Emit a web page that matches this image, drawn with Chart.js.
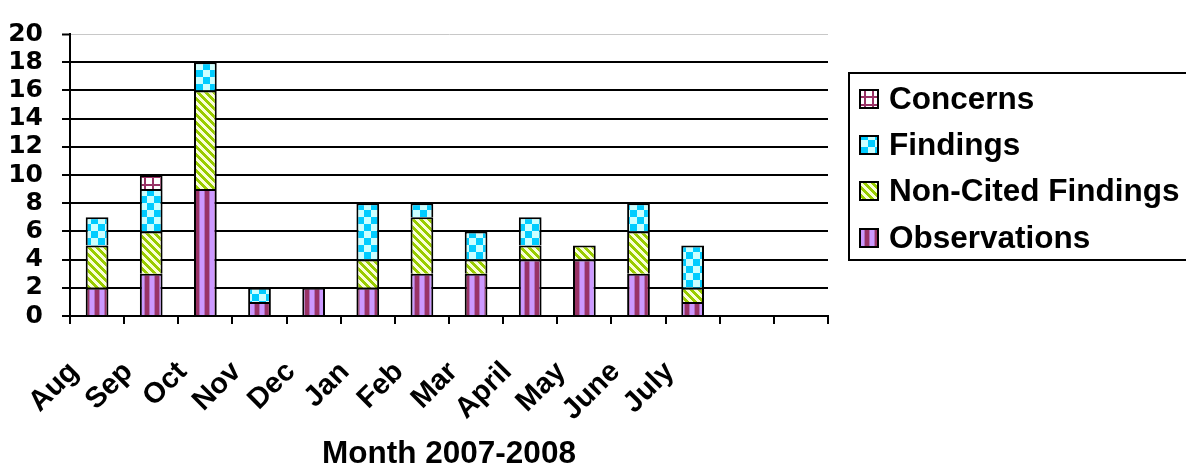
<!DOCTYPE html>
<html>
<head>
<meta charset="utf-8">
<script src="https://cdn.jsdelivr.net/npm/chart.js@4/dist/chart.umd.min.js"></script>
<style>
  html, body { margin: 0; padding: 0; background: #fff; }
  canvas { display: block; }
</style>
</head>
<body>
<canvas id="c" width="1186" height="473"></canvas>
<script>
// Monthly counts, Aug 2007 – July 2008 (two trailing empty slots)
const months = ['Aug', 'Sep', 'Oct', 'Nov', 'Dec', 'Jan', 'Feb', 'Mar', 'April', 'May', 'June', 'July', '', ''];
const observations = [2, 3, 9, 1, 2, 2, 3, 3, 4, 4, 3, 1, 0, 0];
const nonCitedFindings = [3, 3, 7, 0, 0, 2, 4, 1, 1, 1, 3, 1, 0, 0];
const findings = [2, 3, 2, 1, 0, 4, 1, 2, 2, 0, 2, 3, 0, 0];
const concerns = [0, 1, 0, 0, 0, 0, 0, 0, 0, 0, 0, 0, 0, 0];
const yTicks = [0, 2, 4, 6, 8, 10, 12, 14, 16, 18, 20];

const ARIAL = '"Liberation Sans", Arial, sans-serif';

// --- fill patterns -------------------------------------------------------
function tile(w, h, paint) {
  const c = document.createElement('canvas');
  c.width = w; c.height = h;
  const g = c.getContext('2d');
  paint(g, w, h);
  return document.getElementById('c').getContext('2d').createPattern(c, 'repeat');
}

// vertical purple stripes
const obsPattern = tile(10, 1, (g) => {
  const cols = ['#CC99FF', '#CC99FF', '#CC99FF', '#CC99FF', '#B070C0', '#993366', '#993366', '#993366', '#993366', '#B070C0'];
  cols.forEach((col, i) => { g.fillStyle = col; g.fillRect(i, 0, 1, 1); });
});

// green diagonal stripes
const ncfPattern = tile(8, 8, (g, w, h) => {
  for (let y = 0; y < h; y++) {
    for (let x = 0; x < w; x++) {
      const k = ((x - y) % 8 + 8) % 8;
      g.fillStyle = k < 4 ? '#99CC00' : '#FAFFD8';
      g.fillRect(x, y, 1, 1);
    }
  }
});

// cyan checkerboard
const findPattern = tile(14, 14, (g) => {
  g.fillStyle = '#CCFFFF'; g.fillRect(0, 0, 14, 14);
  g.fillStyle = '#00CCFF'; g.fillRect(0, 0, 7, 7); g.fillRect(7, 7, 7, 7);
});

// purple grid on white
const concPattern = tile(8, 8, (g) => {
  g.fillStyle = '#FFFFFF'; g.fillRect(0, 0, 8, 8);
  g.fillStyle = '#993366'; g.fillRect(0, 0, 2, 8); g.fillRect(0, 0, 8, 2);
});

const border = (ctx) => (ctx.raw ? 2 : 0);

// --- boxed legend on the right -------------------------------------------
const boxedLegend = {
  id: 'boxedLegend',
  afterDraw(chart) {
    const g = chart.ctx;
    g.save();
    g.lineWidth = 2;
    g.strokeStyle = '#000';
    g.strokeRect(849, 73, 400, 187);
    const order = chart.data.datasets.slice().reverse();
    const rowY = [99, 145, 191, 238];
    g.font = 'bold 31.5px ' + ARIAL;
    g.textBaseline = 'middle';
    g.textAlign = 'left';
    order.forEach((ds, i) => {
      const y = rowY[i];
      g.fillStyle = ds.backgroundColor;
      g.fillRect(860, y - 9, 18, 18);
      g.strokeStyle = '#000';
      g.lineWidth = 2;
      g.strokeRect(860, y - 9, 18, 18);
      g.fillStyle = '#000';
      g.fillText(ds.label, 889, y + 1);
    });
    g.restore();
  }
};

const whiteBg = {
  id: 'whiteBg',
  beforeDraw(chart) {
    const g = chart.ctx;
    g.save();
    g.fillStyle = '#fff';
    g.fillRect(0, 0, chart.width, chart.height);
    g.restore();
  }
};

new Chart(document.getElementById('c'), {
  type: 'bar',
  data: {
    labels: months,
    datasets: [
      { label: 'Observations', data: observations, backgroundColor: obsPattern },
      { label: 'Non-Cited Findings', data: nonCitedFindings, backgroundColor: ncfPattern },
      { label: 'Findings', data: findings, backgroundColor: findPattern },
      { label: 'Concerns', data: concerns, backgroundColor: concPattern }
    ].map(d => Object.assign(d, {
      borderColor: '#000',
      borderWidth: border,
      borderSkipped: 'start',
      categoryPercentage: 1,
      barPercentage: 0.42
    }))
  },
  options: {
    responsive: false,
    animation: false,
    devicePixelRatio: 1,
    layout: { padding: { top: 17, right: 358, left: 0, bottom: 0 } },
    plugins: { legend: { display: false }, tooltip: { enabled: false } },
    scales: {
      x: {
        stacked: true,
        offset: true,
        grid: { offset: true, drawOnChartArea: false, drawTicks: true, tickLength: 8, color: '#000', lineWidth: 2 },
        border: { color: '#000', width: 2 },
        ticks: {
          color: '#000',
          autoSkip: false,
          minRotation: 45,
          maxRotation: 45,
          padding: 31,
          labelOffset: -23,
          font: { family: ARIAL, size: 29, weight: 'bold' }
        },
        title: {
          display: true,
          text: 'Month 2007-2008',
          color: '#000',
          font: { family: ARIAL, size: 31.5, weight: 'bold' },
          padding: { top: 4, bottom: 0 }
        },
        afterFit(s) { s.height = 157; }
      },
      y: {
        stacked: true,
        min: yTicks[0],
        max: yTicks[yTicks.length - 1],
        afterBuildTicks(s) { s.ticks = yTicks.map(v => ({ value: v })); },
        grid: {
          color: (c) => (c.tick && c.tick.value === 20 ? '#C8C8C8' : '#000'),
          lineWidth: (c) => (c.tick && c.tick.value === 20 ? 1 : 2),
          tickColor: '#000',
          tickWidth: 2,
          tickLength: 8
        },
        border: { color: '#000', width: 2 },
        ticks: {
          color: '#000',
          autoSkip: false,
          padding: 19,
          font: { family: '"DejaVu Sans", sans-serif', size: 25, weight: 'bold' }
        },
        afterFit(s) { s.width = 70; }
      }
    }
  },
  plugins: [whiteBg, boxedLegend]
});
</script>
</body>
</html>
